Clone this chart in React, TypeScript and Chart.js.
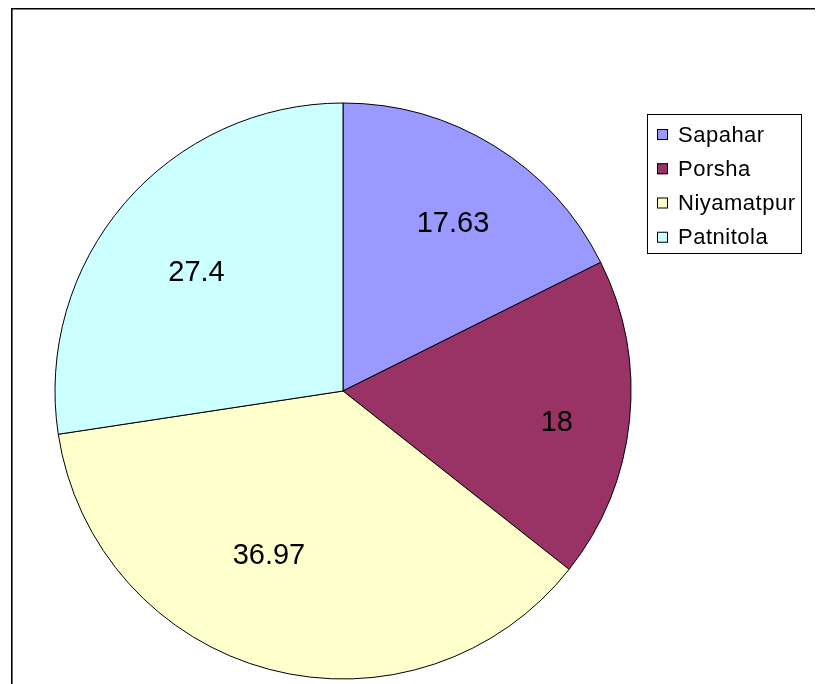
import { useEffect, useRef } from 'react';
import { Chart, registerables } from 'chart.js';

Chart.register(...registerables);

const categories = ['Sapahar', 'Porsha', 'Niyamatpur', 'Patnitola'];
const values = [17.63, 18, 36.97, 27.4];
const valueLabels = ['17.63', '18', '36.97', '27.4'];
const colors = ['#9999FF', '#993366', '#FFFFCC', '#CCFFFF'];

const FONT = '"Liberation Sans", Arial, sans-serif';

// small nudges (px) applied to the computed label anchors, per slice
const labelNudgeX = [7, 19, -24, 2];
const labelNudgeY = [0, 12, -24, 10];

const framePlugin = {
  id: 'frame',
  beforeDraw(chart: any) {
    const ctx = chart.ctx;
    ctx.save();
    ctx.fillStyle = '#ffffff';
    ctx.fillRect(0, 0, chart.width, chart.height);
    ctx.strokeStyle = '#000000';
    ctx.lineWidth = 1.6;
    ctx.beginPath();
    ctx.moveTo(3.8, chart.height + 5);
    ctx.lineTo(3.8, 0.8);
    ctx.lineTo(chart.width + 5, 0.8);
    ctx.stroke();
    ctx.restore();
  },
};

const labelPlugin = {
  id: 'sliceLabels',
  afterDatasetsDraw(chart: any) {
    const ctx = chart.ctx;
    const meta = chart.getDatasetMeta(0);
    ctx.save();
    ctx.font = `29px ${FONT}`;
    ctx.fillStyle = '#000000';
    ctx.textAlign = 'center';
    ctx.textBaseline = 'middle';
    meta.data.forEach((arc: any, i: number) => {
      const p = arc.getProps(['x', 'y', 'startAngle', 'endAngle', 'outerRadius'], true);
      const mid = (p.startAngle + p.endAngle) / 2;
      const r = p.outerRadius * 0.68;
      ctx.fillText(
        valueLabels[i],
        p.x + Math.cos(mid) * r + labelNudgeX[i],
        p.y + Math.sin(mid) * r + labelNudgeY[i]
      );
    });
    ctx.restore();
  },
};

const legendPlugin = {
  id: 'boxLegend',
  afterDraw(chart: any) {
    const ctx = chart.ctx;
    const left = 639;
    const top = 106;
    const w = 154;
    const h = 139;
    ctx.save();
    ctx.fillStyle = '#ffffff';
    ctx.fillRect(left, top, w, h);
    ctx.strokeStyle = '#000000';
    ctx.lineWidth = 1;
    ctx.strokeRect(left + 0.5, top + 0.5, w, h);
    ctx.font = `22px ${FONT}`;
    (ctx as any).letterSpacing = '0.5px';
    ctx.textBaseline = 'middle';
    ctx.textAlign = 'left';
    const labels = chart.data.labels as string[];
    const bg = chart.data.datasets[0].backgroundColor as string[];
    labels.forEach((lab, i) => {
      const cy = 126.5 + i * 34.25;
      ctx.fillStyle = bg[i];
      ctx.fillRect(649, cy - 5.5, 11, 11);
      ctx.strokeStyle = '#000000';
      ctx.strokeRect(649.5, cy - 5, 10, 10);
      ctx.fillStyle = '#000000';
      ctx.fillText(lab, 670, cy + 1);
    });
    ctx.restore();
  },
};

export default function App() {
  const ref = useRef<HTMLCanvasElement>(null);
  useEffect(() => {
    if (!ref.current) return;
    const chart = new Chart(ref.current, {
      type: 'pie',
      data: {
        labels: categories,
        datasets: [
          {
            data: values,
            backgroundColor: colors,
            borderColor: '#000000',
            borderWidth: 1,
            hoverOffset: 0,
            radius: 288,
          } as any,
        ],
      },
      options: {
        animation: false,
        responsive: false,
        devicePixelRatio: 1,
        layout: { padding: { left: 0, right: 145, top: 90, bottom: 0 } },
        plugins: {
          legend: { display: false },
          tooltip: { enabled: false },
        },
      },
      plugins: [framePlugin, labelPlugin, legendPlugin],
    });
    return () => chart.destroy();
  }, []);
  return (
    <div style={{ width: 815, height: 676 }}>
      <canvas ref={ref} width={815} height={676} style={{ display: 'block' }} />
    </div>
  );
}
